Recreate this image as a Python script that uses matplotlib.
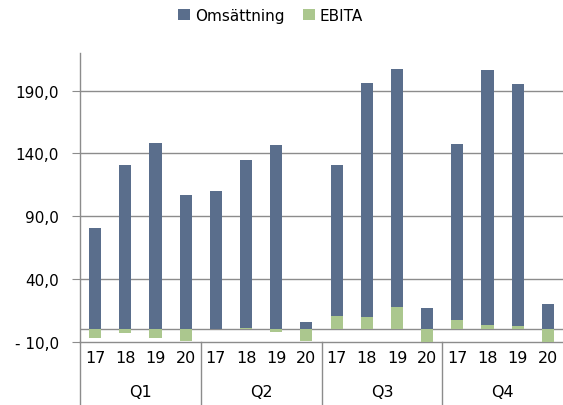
import numpy as np
import matplotlib
matplotlib.use("Agg")
import matplotlib.pyplot as plt
import matplotlib.transforms as mtransforms

# values
quarters = ["Q1", "Q2", "Q3", "Q4"]
years = ["17", "18", "19", "20"]
omsattning = [80.5, 130.7, 148.0, 106.5,
              110.2, 134.7, 146.6, 5.6,
              131.0, 195.8, 207.4, 17.0,
              147.4, 206.4, 195.5, 19.7]
ebita = [-7.2, -2.7, -7.2, -9.3,
         0.3, 0.8, -2.4, -9.3,
         10.1, 9.6, 17.5, -12.5,
         7.4, 3.2, 2.9, -10.4]
yticks = [-10, 40, 90, 140, 190]
ytick_labels = ["- 10,0", "40,0", "90,0", "140,0", "190,0"]

blue = "#5a6e8c"
green = "#abc78e"
grey = "#8c8c8c"

plt.rcParams["font.family"] = ["DejaVu Sans"]
fig = plt.figure(figsize=(5.63, 4.06), dpi=100)
ax = fig.add_axes([80 / 563, (406 - 342.7) / 406, 483 / 563, 288.7 / 406])

x = np.arange(len(omsattning))
ax.bar(x, omsattning, width=0.4, color=blue, label="Omsättning", zorder=3)
ax.bar(x, ebita, width=0.4, color=green, label="EBITA", zorder=4)

ax.set_xlim(-0.5, len(x) - 0.5)
ax.set_ylim(-10, 220)
ax.set_yticks(yticks)
ax.set_yticklabels(ytick_labels, fontsize=11)
ax.tick_params(axis="y", length=6, color=grey, pad=9)
ax.set_xticks(x)
ax.set_xticklabels(years * len(quarters), fontsize=11.5)
ax.tick_params(axis="x", length=0, pad=6)

for v in yticks[1:]:
    ax.axhline(v, color=grey, lw=1, zorder=1)
ax.axhline(0, color=grey, lw=1, zorder=2)

for s in ["top", "right"]:
    ax.spines[s].set_visible(False)
for s in ["left", "bottom"]:
    ax.spines[s].set_color(grey)
    ax.spines[s].set_linewidth(1)

# group separators and quarter labels under the axis
trans = mtransforms.blended_transform_factory(ax.transData, ax.transAxes)
n = len(years)
for i, q in enumerate(quarters):
    left = i * n - 0.5
    ax.plot([left, left], [0, -0.22], color=grey, lw=1, transform=trans, clip_on=False)
    ax.text(i * n + (n - 1) / 2, -0.172, q, transform=trans, ha="center", va="center", fontsize=11.5)

fig.legend(loc="upper center", bbox_to_anchor=(0.48, 1.012), ncol=2, frameon=False,
           fontsize=11, handlelength=0.8, handleheight=0.8, handletextpad=0.3,
           columnspacing=1.2)

fig.savefig("out.png", dpi=100)
